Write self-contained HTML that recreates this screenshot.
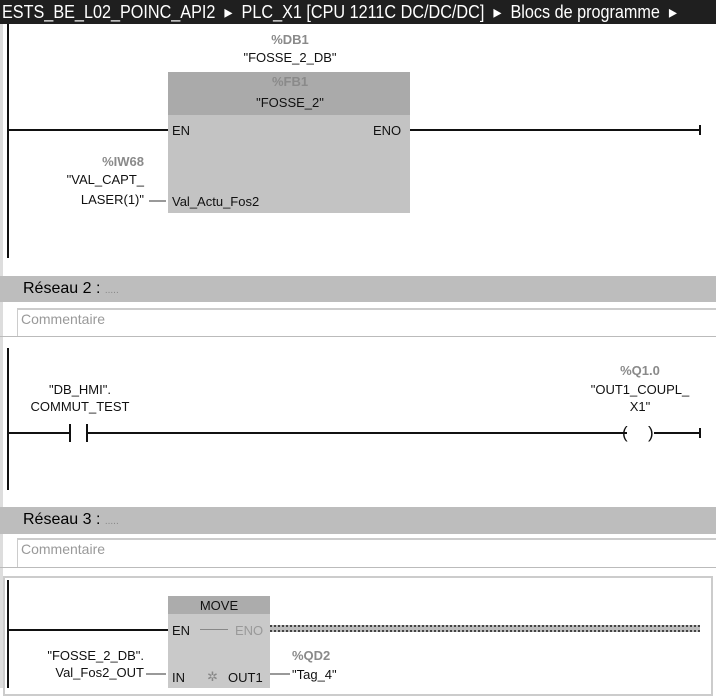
<!DOCTYPE html>
<html><head><meta charset="utf-8"><style>
body{margin:0;width:716px;height:688px;overflow:hidden;background:#fff;position:relative;font-family:"Liberation Sans Narrow","Liberation Sans",sans-serif;color:#111}
div{position:absolute;box-sizing:border-box}
.t{white-space:nowrap;font-size:13px;line-height:15px}
.c{text-align:center}
.g{color:#8a8a8a;font-weight:bold}
.k{background:#111}
</style></head><body>
<div style="left:0;top:0;width:716px;height:24px;background:#1f1f1f;overflow:hidden"></div>
<div class="t" style="left:2px;top:2px;color:#fff;font-size:18px;line-height:20px;transform:scaleX(0.9);transform-origin:0 0">ESTS_BE_L02_POINC_API2 &nbsp;▸ &nbsp;PLC_X1 [CPU 1211C DC/DC/DC] &nbsp;▸ &nbsp;Blocs de programme &nbsp;▸</div>
<div style="left:0;top:24px;width:3px;height:664px;background:#ddd"></div>

<!-- Network 1 -->
<div class="k" style="left:7px;top:24px;width:2px;height:234px"></div>
<div class="t c g" style="left:240px;top:32px;width:100px">%DB1</div>
<div class="t c" style="left:220px;top:50px;width:140px">"FOSSE_2_DB"</div>
<div style="left:168px;top:72px;width:242px;height:141px;background:#c3c3c3"></div>
<div style="left:168px;top:72px;width:242px;height:43px;background:#aaaaaa"></div>
<div class="t c g" style="left:240px;top:74px;width:100px">%FB1</div>
<div class="t c" style="left:220px;top:95px;width:140px">"FOSSE_2"</div>
<div class="k" style="left:8px;top:129px;width:160px;height:2px"></div>
<div class="t" style="left:172px;top:123px">EN</div>
<div class="t" style="left:373px;top:123px">ENO</div>
<div class="k" style="left:410px;top:129px;width:290px;height:2px"></div>
<div class="k" style="left:699px;top:125px;width:2px;height:10px"></div>
<div class="t g" style="left:98px;top:154px;width:46px;text-align:right">%IW68</div>
<div class="t" style="left:40px;top:172px;width:104px;text-align:right">"VAL_CAPT_</div>
<div class="t" style="left:40px;top:192px;width:104px;text-align:right">LASER(1)"</div>
<div style="left:149px;top:200px;width:17px;height:2px;background:#999"></div>
<div class="t" style="left:172px;top:194px">Val_Actu_Fos2</div>

<!-- Network 2 header -->
<div style="left:0;top:276px;width:716px;height:26px;background:#bdbdbd"></div>
<div class="t" style="left:23px;top:280px;font-size:16px;line-height:18px;color:#000">Réseau 2 : <span style="color:#888;font-size:10px">.....</span></div>
<div style="left:17px;top:308px;width:699px;height:28px;border-top:2px solid #ccc;border-left:1px solid #ccc"></div>
<div class="t" style="left:21px;top:312px;color:#999;font-size:14px">Commentaire</div>
<div style="left:0;top:336px;width:716px;height:1px;background:#bbb"></div>

<div class="k" style="left:7px;top:348px;width:2px;height:142px"></div>
<div class="t g c" style="left:600px;top:363px;width:80px">%Q1.0</div>
<div class="t c" style="left:570px;top:382px;width:140px">"OUT1_COUPL_</div>
<div class="t c" style="left:600px;top:399px;width:80px">X1"</div>
<div class="t c" style="left:20px;top:382px;width:120px">"DB_HMI".</div>
<div class="t c" style="left:20px;top:399px;width:120px">COMMUT_TEST</div>
<div class="k" style="left:8px;top:432px;width:62px;height:2px"></div>
<div class="k" style="left:69px;top:424px;width:2px;height:18px"></div>
<div class="k" style="left:86px;top:424px;width:2px;height:18px"></div>
<div class="k" style="left:87px;top:432px;width:540px;height:2px"></div>
<div class="t" style="left:622px;top:423px;font-size:17px;line-height:19px">(</div>
<div class="t" style="left:648px;top:423px;font-size:17px;line-height:19px">)</div>
<div class="k" style="left:654px;top:432px;width:46px;height:2px"></div>
<div class="k" style="left:699px;top:428px;width:2px;height:10px"></div>

<!-- Network 3 header -->
<div style="left:0;top:507px;width:716px;height:27px;background:#bdbdbd"></div>
<div class="t" style="left:23px;top:511px;font-size:16px;line-height:18px;color:#000">Réseau 3 : <span style="color:#888;font-size:10px">.....</span></div>
<div style="left:17px;top:538px;width:699px;height:29px;border-top:2px solid #ccc;border-left:1px solid #ccc"></div>
<div class="t" style="left:21px;top:542px;color:#999;font-size:14px">Commentaire</div>
<div style="left:0;top:567px;width:716px;height:1px;background:#bbb"></div>
<div style="left:3px;top:576px;width:710px;height:120px;border:2px solid #ccc"></div>

<div class="k" style="left:7px;top:580px;width:2px;height:108px"></div>
<div style="left:168px;top:596px;width:102px;height:92px;background:#c9c9c9"></div>
<div style="left:168px;top:596px;width:102px;height:18px;background:#acacac"></div>
<div class="t c" style="left:168px;top:598px;width:102px">MOVE</div>
<div class="k" style="left:8px;top:629px;width:160px;height:2px"></div>
<div class="t" style="left:172px;top:623px">EN</div>
<div style="left:200px;top:629px;width:28px;height:1px;background:#888"></div>
<div class="t" style="left:235px;top:623px;color:#999">ENO</div>
<div style="left:270px;top:625px;width:430px;height:7px;border:2px dotted #444;background:#bbb"></div>
<div class="t" style="left:20px;top:648px;width:124px;text-align:right">"FOSSE_2_DB".</div>
<div class="t" style="left:20px;top:665px;width:124px;text-align:right">Val_Fos2_OUT</div>
<div style="left:146px;top:673px;width:20px;height:2px;background:#999"></div>
<div class="t" style="left:172px;top:670px">IN</div>
<div class="t" style="left:207px;top:669px;color:#888">✲</div>
<div class="t" style="left:228px;top:670px">OUT1</div>
<div style="left:270px;top:673px;width:20px;height:2px;background:#999"></div>
<div class="t g" style="left:292px;top:648px">%QD2</div>
<div class="t" style="left:292px;top:667px">"Tag_4"</div>
</body></html>
